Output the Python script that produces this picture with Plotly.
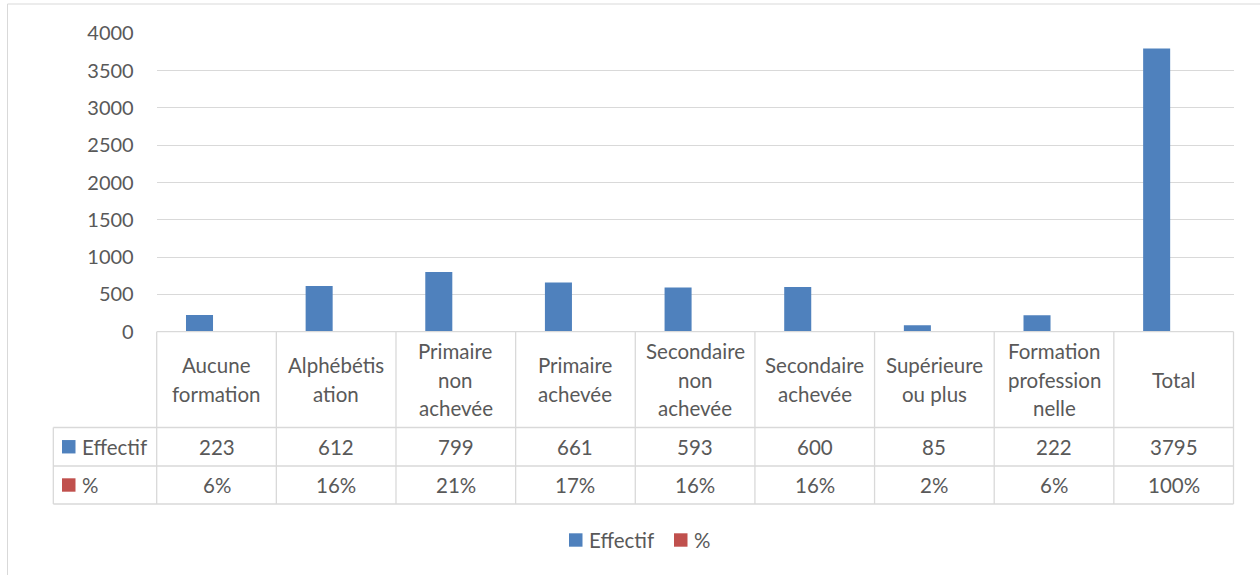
import plotly.graph_objects as go

# ---- data ----
categories = ["Aucune formation", "Alphébétisation", "Primaire non achevée", "Primaire achevée",
              "Secondaire non achevée", "Secondaire achevée", "Supérieure ou plus",
              "Formation professionnelle", "Total"]
header_lines = [["Aucune", "formation"], ["Alphébétis", "ation"], ["Primaire", "non", "achevée"],
                ["Primaire", "achevée"], ["Secondaire", "non", "achevée"], ["Secondaire", "achevée"],
                ["Supérieure", "ou plus"], ["Formation", "profession", "nelle"], ["Total"]]
effectif = [223, 612, 799, 661, 593, 600, 85, 222, 3795]
pct = [6, 16, 21, 17, 16, 16, 2, 6, 100]
series_names = ["Effectif", "%"]
y_ticks = [0, 500, 1000, 1500, 2000, 2500, 3000, 3500, 4000]

# ---- styling / layout geometry (pixels) ----
W, H = 1260, 575
X0, X1 = 156.7, 1233.5      # plot area left/right
Y0, Y1 = 331.7, 33.3        # y of value 0 / value 4000
ROWS = [331.7, 427.5, 466.0, 504.0]
TABLE_LEFT = 53.3
BLUE, RED = "#4f81bd", "#c0504d"
GRID = "#d9d9d9"
TXT = "#595959"
FONT = "Lato"
FS = 20
FS_T = 20.5

def px(x):
    return x / W

def py(y):
    return 1 - y / H

def xd(x):
    return (x - X0) / (X1 - X0)

def yd(y):
    return (Y0 - y) / (Y0 - Y1)

fig = go.Figure()
fig.add_trace(go.Bar(x=categories, y=effectif, name=series_names[0], marker_color=BLUE,
                     marker_line_width=0, showlegend=False, hoverinfo="x+y"))
fig.add_trace(go.Bar(x=categories, y=[p / 100 for p in pct], name=series_names[1], marker_color=RED,
                     marker_line_width=0, showlegend=False, hoverinfo="x+y"))

shapes = []
# outer chart border (top and left edges visible in the frame)
shapes.append(dict(type="line", xref="paper", yref="paper", x0=px(7.5), x1=1, y0=py(4), y1=py(4),
                   line=dict(color=GRID, width=1), layer="below"))
shapes.append(dict(type="line", xref="paper", yref="paper", x0=px(7.5), x1=px(7.5), y0=py(4), y1=0,
                   line=dict(color=GRID, width=1), layer="below"))
# table horizontal lines
shapes.append(dict(type="line", xref="x domain", yref="y domain", x0=0, x1=1, y0=yd(ROWS[0]), y1=yd(ROWS[0]),
                   line=dict(color=GRID, width=1.3)))
for r in ROWS[1:]:
    shapes.append(dict(type="line", xref="x domain", yref="y domain", x0=xd(TABLE_LEFT), x1=1, y0=yd(r), y1=yd(r),
                       line=dict(color=GRID, width=1.3)))
# table vertical lines
n = len(categories)
for k in range(n + 1):
    shapes.append(dict(type="line", xref="x domain", yref="y domain", x0=k / n, x1=k / n,
                       y0=yd(ROWS[0]), y1=yd(ROWS[3]), line=dict(color=GRID, width=1.3)))
shapes.append(dict(type="line", xref="x domain", yref="y domain", x0=xd(TABLE_LEFT), x1=xd(TABLE_LEFT),
                   y0=yd(ROWS[1]), y1=yd(ROWS[3]), line=dict(color=GRID, width=1.3)))

annotations = []
hdr_c = (ROWS[0] + ROWS[1]) / 2
LS = 28.4
for cat, lines in zip(categories, header_lines):
    m = len(lines)
    for i, ln in enumerate(lines):
        yy = hdr_c + (i - (m - 1) / 2) * LS
        annotations.append(dict(x=cat, xref="x", y=py(yy), yref="paper", text=ln, showarrow=False,
                                xanchor="center", yanchor="middle", font=dict(family=FONT, size=FS_T, color=TXT)))
row_c = [(ROWS[1] + ROWS[2]) / 2, (ROWS[2] + ROWS[3]) / 2]
for cat, v, p in zip(categories, effectif, pct):
    annotations.append(dict(x=cat, xref="x", y=py(row_c[0]), yref="paper", text=str(v), showarrow=False,
                            xanchor="center", yanchor="middle", font=dict(family=FONT, size=FS_T, color=TXT)))
    annotations.append(dict(x=cat, xref="x", y=py(row_c[1]), yref="paper", text=f"{p}%", showarrow=False,
                            xanchor="center", yanchor="middle", font=dict(family=FONT, size=FS_T, color=TXT)))
# table row keys
for name, col, yc in zip(series_names, [BLUE, RED], row_c):
    shapes.append(dict(type="rect", xref="paper", yref="paper", x0=px(62), x1=px(75.5),
                       y0=py(yc - 6.7), y1=py(yc + 6.7), fillcolor=col, line=dict(width=0)))
    annotations.append(dict(x=px(80), xref="paper", y=py(yc), yref="paper", text=name, showarrow=False,
                            xanchor="left", yanchor="middle", font=dict(family=FONT, size=FS_T, color=TXT)))
# bottom legend
LEG_Y = 540
for name, col, sx in zip(series_names, [BLUE, RED], [569, 674]):
    shapes.append(dict(type="rect", xref="paper", yref="paper", x0=px(sx), x1=px(sx + 13.5),
                       y0=py(LEG_Y - 6.7), y1=py(LEG_Y + 6.7), fillcolor=col, line=dict(width=0)))
    annotations.append(dict(x=px(sx + 18), xref="paper", y=py(LEG_Y), yref="paper", text=name, showarrow=False,
                            xanchor="left", yanchor="middle", font=dict(family=FONT, size=FS_T, color=TXT)))

fig.update_layout(
    width=W, height=H,
    margin=dict(l=0, r=0, t=0, b=0, pad=0),
    paper_bgcolor="white", plot_bgcolor="white",
    barmode="group", bargap=0.431, bargroupgap=0.206,
    showlegend=False,
    font=dict(family=FONT, size=FS, color=TXT),
    xaxis=dict(domain=[px(X0), px(X1)], showticklabels=False, showgrid=False, showline=False,
               zeroline=False, ticks="", fixedrange=True, automargin=False),
    yaxis=dict(domain=[py(Y0), py(Y1)], range=[0, 4000], tickvals=y_ticks, showgrid=True,
               gridcolor=GRID, gridwidth=1.3, zeroline=False, showline=False, ticks="",
               ticklabelstandoff=22, automargin=False, tickfont=dict(family=FONT, size=FS, color=TXT)),
    shapes=shapes,
    annotations=annotations,
)

fig.write_html("out.html", config={"displayModeBar": False},
               post_script="document.body.style.margin='0';document.body.style.overflow='hidden';")
